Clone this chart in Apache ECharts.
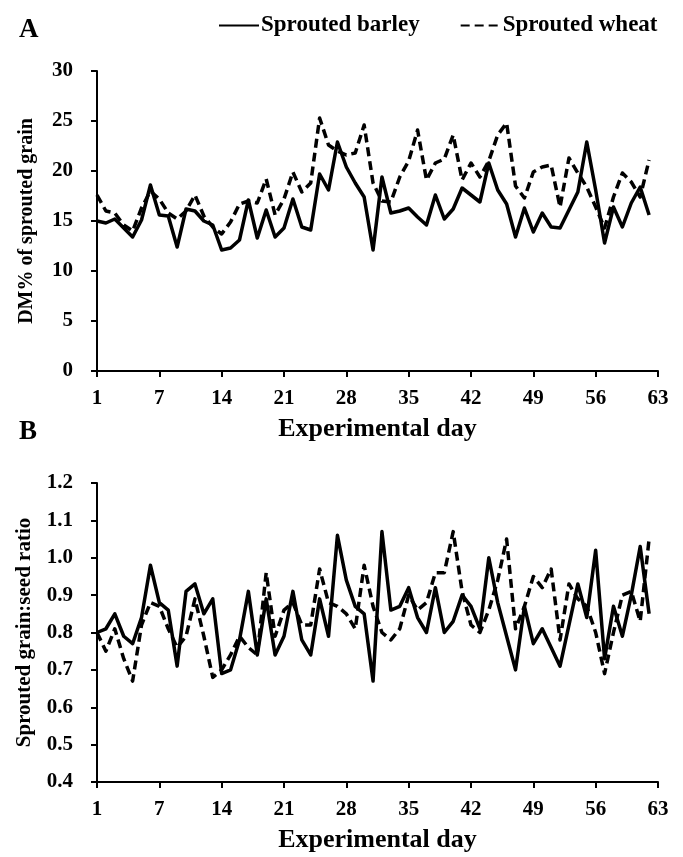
<!DOCTYPE html>
<html>
<head>
<meta charset="utf-8">
<script src="https://cdn.jsdelivr.net/npm/echarts@6/dist/echarts.min.js"></script>
<style>
  html, body { margin: 0; padding: 0; background: #fff; }
  #chart { width: 683px; height: 857px; }
</style>
</head>
<body>
<div id="chart"></div>
<script>
// Axis tick labels for the experimental days (position 0 is labelled as day 1)
const dayTicks = [0, 7, 14, 21, 28, 35, 42, 49, 56, 63];
const dayTickLabels = ['1', '7', '14', '21', '28', '35', '42', '49', '56', '63'];

// Panel A: dry matter (%) of sprouted grain, one value per day
const dmBarley = [15.0, 14.8, 15.2, 14.3, 13.4, 15.1, 18.6, 15.6, 15.5, 12.4,
  16.2, 16.0, 15.0, 14.6, 12.1, 12.3, 13.1, 17.1, 13.3, 16.1,
  13.4, 14.3, 17.2, 14.4, 14.1, 19.7, 18.1, 22.9, 20.4, 18.8,
  17.4, 12.1, 19.4, 15.8, 16.0, 16.3, 15.4, 14.6, 17.6, 15.2,
  16.2, 18.3, 17.6, 16.9, 20.8, 18.1, 16.7, 13.4, 16.3, 13.9,
  15.8, 14.4, 14.3, 16.1, 17.9, 22.9, 18.1, 12.8, 16.4, 14.4,
  16.8, 18.4, 15.6];
const dmWheat = [17.6, 16.0, 15.8, 14.6, 14.0, 16.3, 18.0, 17.2, 15.8, 15.2,
  16.0, 17.6, 15.5, 14.4, 13.7, 14.9, 16.7, 17.0, 16.8, 19.2,
  15.6, 17.2, 19.9, 17.9, 18.8, 25.3, 22.6, 22.0, 21.6, 21.8,
  24.6, 18.8, 17.0, 16.9, 19.4, 21.0, 24.1, 19.1, 20.8, 21.2,
  23.6, 19.1, 20.8, 19.4, 21.0, 23.6, 24.8, 18.5, 17.3, 19.9,
  20.4, 20.6, 16.4, 21.3, 19.8, 18.4, 16.4, 14.3, 17.4, 19.8,
  18.9, 17.4, 21.1];

// Panel B: sprouted grain to seed ratio, one value per day
const ratioBarley = [0.80, 0.81, 0.85, 0.79, 0.77, 0.84, 0.98, 0.88, 0.86, 0.71,
  0.91, 0.93, 0.85, 0.89, 0.69, 0.70, 0.78, 0.91, 0.74, 0.89,
  0.74, 0.79, 0.91, 0.78, 0.74, 0.89, 0.79, 1.06, 0.94, 0.87,
  0.85, 0.67, 1.07, 0.86, 0.87, 0.92, 0.84, 0.80, 0.92, 0.80,
  0.83, 0.90, 0.87, 0.81, 1.00, 0.88, 0.79, 0.70, 0.87, 0.77,
  0.81, 0.76, 0.71, 0.82, 0.93, 0.84, 1.02, 0.73, 0.87, 0.79,
  0.90, 1.03, 0.85];
const ratioWheat = [0.80, 0.75, 0.81, 0.73, 0.67, 0.82, 0.88, 0.87, 0.81, 0.76,
  0.79, 0.89, 0.79, 0.68, 0.70, 0.74, 0.79, 0.76, 0.74, 0.96,
  0.79, 0.86, 0.88, 0.82, 0.82, 0.97, 0.88, 0.87, 0.85, 0.81,
  0.98, 0.87, 0.80, 0.78, 0.81, 0.90, 0.86, 0.88, 0.96, 0.96,
  1.07, 0.91, 0.82, 0.80, 0.86, 0.94, 1.05, 0.81, 0.87, 0.95,
  0.92, 0.97, 0.78, 0.93, 0.89, 0.87, 0.80, 0.69, 0.80, 0.90,
  0.91, 0.83, 1.05];

const FONT = '"Liberation Serif", "Times New Roman", serif';
const BLACK = '#000';

// Pair each daily value with its position along the day axis
const toPoints = vals => vals.map((v, i) => [i, v]);

function dayAxis(gridIndex) {
  return {
    type: 'value', gridIndex,
    min: 0, max: 63, interval: 7,
    name: 'Experimental day', nameLocation: 'middle', nameGap: 45,
    nameTextStyle: { fontFamily: FONT, fontWeight: 'bold', fontSize: 26, color: BLACK },
    axisLine: { show: true, lineStyle: { color: BLACK, width: 2 } },
    axisTick: { show: true, length: 6, lineStyle: { color: BLACK, width: 2 } },
    axisLabel: {
      margin: 17, fontFamily: FONT, fontWeight: 'bold', fontSize: 21, color: BLACK,
      formatter: v => dayTickLabels[dayTicks.indexOf(v)]
    },
    splitLine: { show: false }
  };
}

function valueAxis(gridIndex, name, min, max, interval, decimals, nameGap, nameSize) {
  return {
    type: 'value', gridIndex, min, max, interval,
    name, nameLocation: 'middle', nameGap, nameRotate: 90,
    nameTextStyle: { fontFamily: FONT, fontWeight: 'bold', fontSize: nameSize, color: BLACK },
    axisLine: { show: true, lineStyle: { color: BLACK, width: 2 } },
    axisTick: { show: true, length: 6, lineStyle: { color: BLACK, width: 2 } },
    axisLabel: {
      margin: 24, fontFamily: FONT, fontWeight: 'bold', fontSize: 21, color: BLACK,
      formatter: v => v.toFixed(decimals)
    },
    splitLine: { show: false }
  };
}

function lineSeries(name, vals, axisIndex, dashed) {
  return {
    name, type: 'line',
    xAxisIndex: axisIndex, yAxisIndex: axisIndex,
    data: toPoints(vals),
    symbol: 'none', smooth: false, animation: false,
    lineStyle: { color: BLACK, width: 3.5, type: dashed ? [9, 5] : 'solid', join: 'round' },
    itemStyle: { color: BLACK }
  };
}

const chart = echarts.init(document.getElementById('chart'), null, { renderer: 'canvas' });
chart.setOption({
  backgroundColor: '#fff',
  animation: false,
  title: [
    { text: 'A', left: 14, top: 12, textStyle: { fontFamily: FONT, fontWeight: 'bold', fontSize: 27, color: BLACK } },
    { text: 'B', left: 14, top: 414, textStyle: { fontFamily: FONT, fontWeight: 'bold', fontSize: 27, color: BLACK } }
  ],
  legend: {
    top: 9, left: 213, itemWidth: 40, itemHeight: 14, itemGap: 40,
    // plain line samples, no point markers
    itemStyle: { color: 'rgba(0,0,0,0)', borderColor: 'rgba(0,0,0,0)', borderWidth: 0 },
    textStyle: { fontFamily: FONT, fontWeight: 'bold', fontSize: 23, color: BLACK, padding: [0, 0, 0, -3] },
    data: ['Sprouted barley', 'Sprouted wheat']
  },
  grid: [
    { left: 97, top: 71, width: 561, height: 300 },
    { left: 97, top: 483, width: 561, height: 299 }
  ],
  xAxis: [dayAxis(0), dayAxis(1)],
  yAxis: [
    valueAxis(0, 'DM% of sprouted grain', 0, 30, 5, 0, 60, 20),
    valueAxis(1, 'Sprouted grain:seed ratio', 0.4, 1.2, 0.1, 1, 62, 21)
  ],
  series: [
    lineSeries('Sprouted barley', dmBarley, 0, false),
    lineSeries('Sprouted wheat', dmWheat, 0, true),
    lineSeries('Sprouted barley', ratioBarley, 1, false),
    lineSeries('Sprouted wheat', ratioWheat, 1, true)
  ]
});
</script>
</body>
</html>
